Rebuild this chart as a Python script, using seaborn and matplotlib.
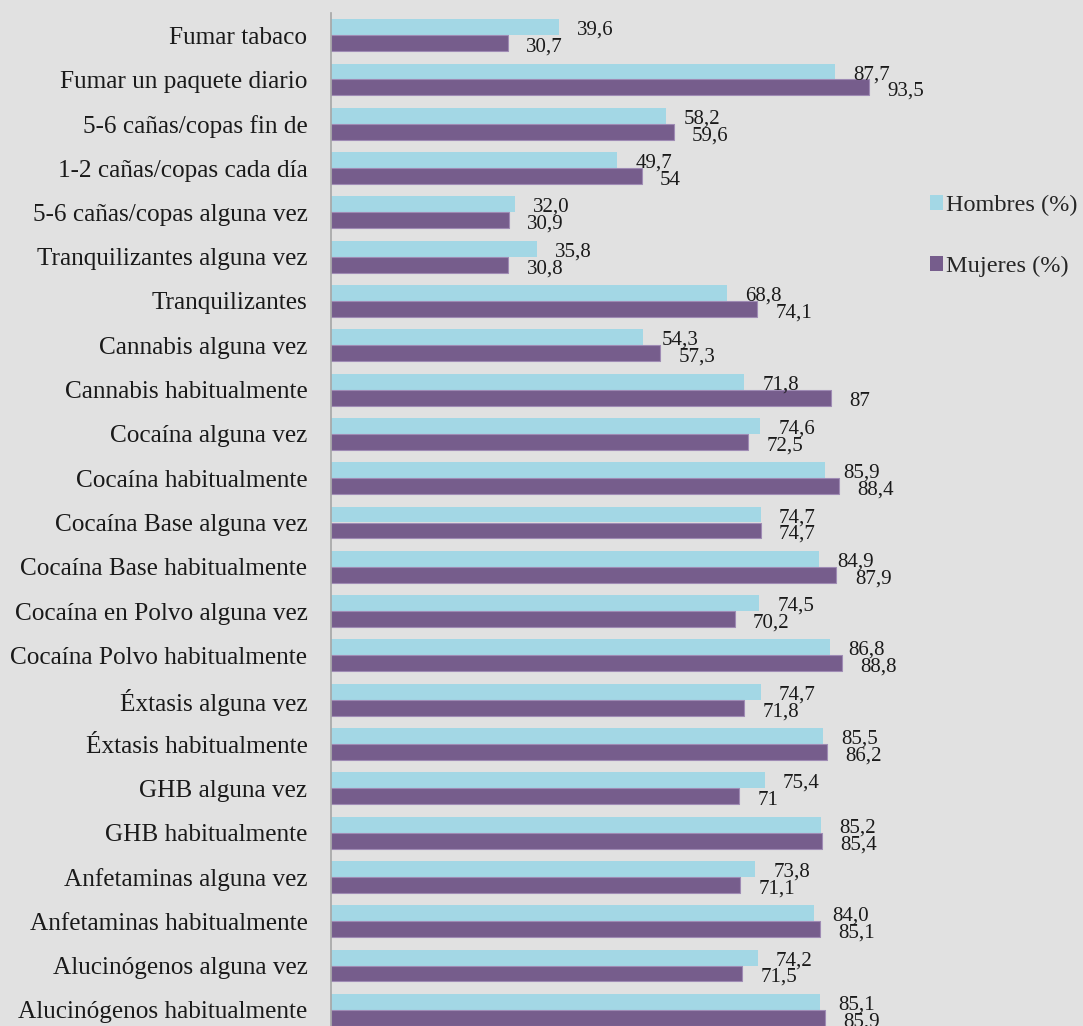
"""Consumo de sustancias: percepción de riesgo por sexo (barras horizontales)."""

import matplotlib

matplotlib.use("Agg")

import matplotlib.pyplot as plt
import numpy as np
import pandas as pd
import seaborn as sns
from matplotlib.patches import Patch

categorias = [
    "Fumar tabaco",
    "Fumar un paquete diario",
    "5-6 cañas/copas fin de",
    "1-2 cañas/copas cada día",
    "5-6 cañas/copas alguna vez",
    "Tranquilizantes alguna vez",
    "Tranquilizantes",
    "Cannabis alguna vez",
    "Cannabis habitualmente",
    "Cocaína alguna vez",
    "Cocaína habitualmente",
    "Cocaína Base alguna vez",
    "Cocaína Base habitualmente",
    "Cocaína en Polvo alguna vez",
    "Cocaína Polvo habitualmente",
    "Éxtasis alguna vez",
    "Éxtasis habitualmente",
    "GHB alguna vez",
    "GHB habitualmente",
    "Anfetaminas alguna vez",
    "Anfetaminas habitualmente",
    "Alucinógenos alguna vez",
    "Alucinógenos habitualmente",
]
hombres = [39.6, 87.7, 58.2, 49.7, 32.0, 35.8, 68.8, 54.3, 71.8, 74.6, 85.9, 74.7,
           84.9, 74.5, 86.8, 74.7, 85.5, 75.4, 85.2, 73.8, 84.0, 74.2, 85.1]
mujeres = [30.7, 93.5, 59.6, 54.0, 30.9, 30.8, 74.1, 57.3, 87.0, 72.5, 88.4, 74.7,
           87.9, 70.2, 88.8, 71.8, 86.2, 71.0, 85.4, 71.1, 85.1, 71.5, 85.9]
# texto de las etiquetas tal como aparece (algunas sin decimal)
etiquetas_h = ["39,6", "87,7", "58,2", "49,7", "32,0", "35,8", "68,8", "54,3", "71,8",
               "74,6", "85,9", "74,7", "84,9", "74,5", "86,8", "74,7", "85,5", "75,4",
               "85,2", "73,8", "84,0", "74,2", "85,1"]
etiquetas_m = ["30,7", "93,5", "59,6", "54", "30,9", "30,8", "74,1", "57,3", "87",
               "72,5", "88,4", "74,7", "87,9", "70,2", "88,8", "71,8", "86,2", "71",
               "85,4", "71,1", "85,1", "71,5", "85,9"]
series = ["Hombres (%)", "Mujeres (%)"]
colores = ["#a3d7e5", "#765d8c"]

FONDO = "#e1e1e1"
TEXTO = "#1a1a1a"

df = pd.DataFrame({
    "categoria": categorias * 2,
    "valor": hombres + mujeres,
    "serie": [series[0]] * len(categorias) + [series[1]] * len(categorias),
})

sns.set_theme(style="white")
plt.rcParams["font.family"] = ["Liberation Serif", "DejaVu Serif"]

fig = plt.figure(figsize=(10.83, 10.26), dpi=100, facecolor=FONDO)
ax = fig.add_axes([331 / 1083, -6 / 1026, 575 / 1083, 1019 / 1026])
ax.set_facecolor(FONDO)

sns.barplot(
    data=df, y="categoria", x="valor", hue="serie", orient="h",
    palette=colores, width=0.72, saturation=1, legend=False, ax=ax,
)
# las barras moradas llevan un borde algo más claro; las azules, ninguno
for patch in ax.patches:
    if patch.get_facecolor()[0] < 0.6:
        patch.set_edgecolor("#9f8bb4")
        patch.set_linewidth(0.8)
    else:
        patch.set_linewidth(0)

ax.set_xlim(0, 100)
ax.set_ylim(len(categorias) - 0.5, -0.5)
ax.set_xlabel("")
ax.set_ylabel("")
ax.set_xticks([])
ax.tick_params(axis="y", which="major", length=0, pad=17, labelsize=18.2, labelcolor=TEXTO)
ax.set_yticks(np.arange(-0.5, len(categorias), 1), minor=True)
ax.tick_params(axis="y", which="minor", length=14, direction="inout", color="#a6a6a6", width=1.2)

for lado in ["top", "right", "bottom"]:
    ax.spines[lado].set_visible(False)
ax.spines["left"].set_color("#a6a6a6")
ax.spines["left"].set_linewidth(1.2)

# etiquetas de datos, a la derecha de cada barra
for i in range(len(categorias)):
    ax.text(hombres[i] + 3.2, i - 0.11, etiquetas_h[i], va="center", ha="left",
            fontsize=15, color=TEXTO)
    ax.text(mujeres[i] + 3.2, i + 0.27, etiquetas_m[i], va="center", ha="left",
            fontsize=15, color=TEXTO)

handles = [Patch(facecolor=c, edgecolor="none") for c in colores]
fig.legend(
    handles, series, loc="upper left", bbox_to_anchor=(920 / 1083, 1 - 185 / 1026),
    frameon=False, fontsize=17.5, handlelength=0.55, handleheight=0.55,
    handletextpad=0.1, labelspacing=1.65, borderaxespad=0,
)

fig.savefig("out.png", dpi=100, facecolor=FONDO)
